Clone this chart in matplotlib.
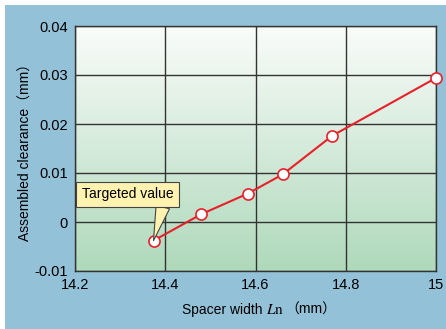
import numpy as np
import matplotlib
matplotlib.use("Agg")
import matplotlib.pyplot as plt
from matplotlib.patches import Rectangle
from matplotlib.colors import LinearSegmentedColormap

plt.rcParams['font.family'] = ['Liberation Sans', 'Noto Sans CJK JP']
plt.rcParams['mathtext.fontset'] = 'stix'

width = [14.374, 14.48, 14.583, 14.66, 14.77, 15.0]
clearance = [-0.0038, 0.0016, 0.0058, 0.0097, 0.0176, 0.0294]
xticks = [14.2, 14.4, 14.6, 14.8, 15]
xticklabels = ["14.2", "14.4", "14.6", "14.8", "15"]
yticks = [-0.01, 0, 0.01, 0.02, 0.03, 0.04]
yticklabels = ["-0.01", "0", "0.01", "0.02", "0.03", "0.04"]

fig = plt.figure(figsize=(4.46, 3.29), dpi=100)
fig.patch.set_facecolor("white")
fig.patches.append(Rectangle((5/446, 0), 441/446, 324/329, transform=fig.transFigure,
                             fc="#93c1d8", ec="none", zorder=-10))

ax = fig.add_axes([75/446, 1 - 271/329, 361/446, 245/329])
ax.set_xlim(14.2, 15)
ax.set_ylim(-0.01, 0.04)

# background gradient, light at top, green at bottom
cmap = LinearSegmentedColormap.from_list("g", ["#fafcfa", "#afd9bb"])
grad = np.linspace(0, 1, 256).reshape(-1, 1)
ax.imshow(grad, cmap=cmap, aspect="auto", origin="upper",
          extent=[14.2, 15, -0.01, 0.04], zorder=0)

ax.set_xticks(xticks)
ax.set_xticklabels(xticklabels, fontsize=10.5)
ax.set_yticks(yticks)
ax.set_yticklabels(yticklabels, fontsize=10.5)
ax.tick_params(axis="x", length=0, pad=5)
ax.tick_params(axis="y", length=0, pad=5)
ax.grid(True, color="#333333", linewidth=1.0, zorder=1)
for s in ax.spines.values():
    s.set_color("#333333")
    s.set_linewidth(1.0)

ax.plot(width, clearance, "-", color="#e8202a", linewidth=1.5, zorder=3, clip_on=False)
ax.plot(width, clearance, "o", ms=8, mfc="white", mec="#e8202a", mew=1.2, zorder=4, clip_on=False)

ax.annotate("Targeted value", xy=(width[0], clearance[0]), xytext=(14.2155, 0.0057),
            fontsize=10, ha="left", va="center", zorder=5,
            bbox=dict(boxstyle="square,pad=0.4", fc="#fdf2b0", ec="#444444", lw=0.8),
            arrowprops=dict(arrowstyle="wedge,tail_width=1.0,shrink_factor=0.5",
                            fc="#fdf2b0", ec="#444444", lw=0.8,
                            relpos=(0.9, 0.0), shrinkA=0, shrinkB=0))

# x label in pieces so the full-width brackets can fall back to the CJK font
fig.text(182/446, 1 - 310/329, "Spacer width", fontsize=10, ha="left", va="center")
fig.text(266/446, 1 - 310/329, "$\\mathit{L}\\mathrm{n}$", fontsize=11, ha="left", va="center")
fig.text(285/446, 1 - 310/329, "（mm）", fontsize=10, ha="left", va="center")
ax.set_ylabel("Assembled clearance（mm）", fontsize=10, labelpad=1)

fig.savefig("out.png", dpi=100)
